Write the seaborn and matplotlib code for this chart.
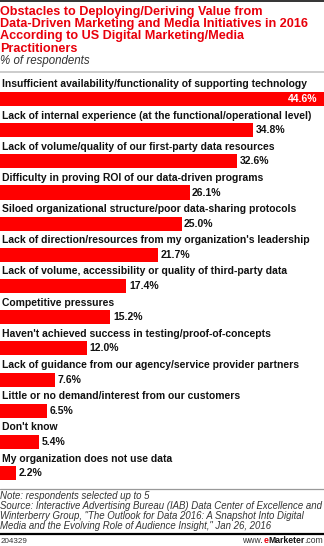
import matplotlib
matplotlib.use("Agg")
import matplotlib.pyplot as plt
import seaborn as sns
import pandas as pd
from matplotlib.lines import Line2D

categories = [
    "Insufficient availability/functionality of supporting technology",
    "Lack of internal experience (at the functional/operational level)",
    "Lack of volume/quality of our first-party data resources",
    "Difficulty in proving ROI of our data-driven programs",
    "Siloed organizational structure/poor data-sharing protocols",
    "Lack of direction/resources from my organization's leadership",
    "Lack of volume, accessibility or quality of third-party data",
    "Competitive pressures",
    "Haven't achieved success in testing/proof-of-concepts",
    "Lack of guidance from our agency/service provider partners",
    "Little or no demand/interest from our customers",
    "Don't know",
    "My organization does not use data",
]
values = [44.6, 34.8, 32.6, 26.1, 25.0, 21.7, 17.4, 15.2, 12.0, 7.6, 6.5, 5.4, 2.2]

title_lines = [
    "Obstacles to Deploying/Deriving Value from",
    "Data-Driven Marketing and Media Initiatives in 2016",
    "According to US Digital Marketing/Media",
    "Practitioners",
]
subtitle = "% of respondents"
note_lines = [
    "Note: respondents selected up to 5",
    "Source: Interactive Advertising Bureau (IAB) Data Center of Excellence and",
    "Winterberry Group, \"The Outlook for Data 2016: A Snapshot Into Digital",
    "Media and the Evolving Role of Audience Insight,\" Jan 26, 2016",
]
chart_id = "204329"

W, H = 324, 546
RED = "#ff0000"
TITLE_RED = "#e8000b"
NARROW = ["Liberation Sans Narrow", "Liberation Sans", "DejaVu Sans"]
REG = ["Liberation Sans", "DejaVu Sans"]

sns.set_theme(style="white")
plt.rcParams["font.family"] = REG

fig = plt.figure(figsize=(W / 100, H / 100), dpi=100)

def fx(x):
    return x / W

def fy(y):
    return 1 - y / H

# axes: bar centers at 99 + 31.17*i
step = 31.17
top_px = 99 - step / 2
bot_px = 99 + step * 12 + step / 2
ax = fig.add_axes([0, fy(bot_px), 1, (bot_px - top_px) / H])

df = pd.DataFrame({"cat": categories, "val": values})
sns.barplot(data=df, x="val", y="cat", orient="h", color=RED, saturation=1,
            width=0.45, ax=ax, edgecolor="none")
ax.set_xlim(0, 44.6)
ax.set_ylim(12.5, -0.5)
ax.axis("off")

for i, (c, v) in enumerate(zip(categories, values)):
    ax.text(0.3, i - 0.37, c, ha="left", va="baseline", fontsize=7.5,
            fontweight="bold", family=NARROW, color="#111111")
    if i == 0:
        ax.annotate(f"{v:.1f}%", (v, i), xytext=(-4.5, 0), textcoords="offset points",
                    ha="right", va="center", fontsize=7.5, fontweight="bold",
                    family=NARROW, color="white")
    else:
        ax.annotate(f"{v:.1f}%", (v, i), xytext=(1.8, 0), textcoords="offset points",
                    ha="left", va="center", fontsize=7.5, fontweight="bold",
                    family=NARROW, color="#111111")

# title
for k, line in enumerate(title_lines):
    fig.text(fx(0.5), fy(14.5 + 12.4 * k), line, ha="left", va="baseline",
             fontsize=9.1, fontweight="bold", family=NARROW, color=TITLE_RED)
fig.text(fx(0.5), fy(64), subtitle, ha="left", va="baseline", fontsize=8.3,
         style="italic", color="#333333")

# lines
def hline(y, color, lw):
    fig.add_artist(Line2D([0, 1], [fy(y), fy(y)], color=color, lw=lw,
                          transform=fig.transFigure))

hline(0.8, "#333333", 1.4)
hline(71.5, "#cccccc", 1.4)
hline(488.5, "#999999", 0.9)
hline(533.5, "#000000", 1.6)

for k, line in enumerate(note_lines):
    fig.text(fx(0.5), fy(499.3 + 10 * k), line, ha="left", va="baseline",
             fontsize=6.9, style="italic", color="#333333")

fig.text(fx(0.5), fy(543.3), chart_id, ha="left", va="baseline", fontsize=5.8,
         color="#333333")

# eMarketer footer
r = fig.canvas.get_renderer()
parts = [("www.", "normal", "#333333"), ("e", "bold", TITLE_RED),
         ("Marketer", "bold", "#111111"), (".com", "normal", "#333333")]
texts = []
for s, w, col in parts:
    t = fig.text(0, fy(543.3), s, ha="left", va="baseline", fontsize=6.2,
                 fontweight=w, color=col)
    texts.append(t)
widths = [t.get_window_extent(renderer=r).width for t in texts]
x = 323 - sum(widths)
for t, wd in zip(texts, widths):
    t.set_x(fx(x))
    x += wd

fig.savefig("out.png", dpi=100)
